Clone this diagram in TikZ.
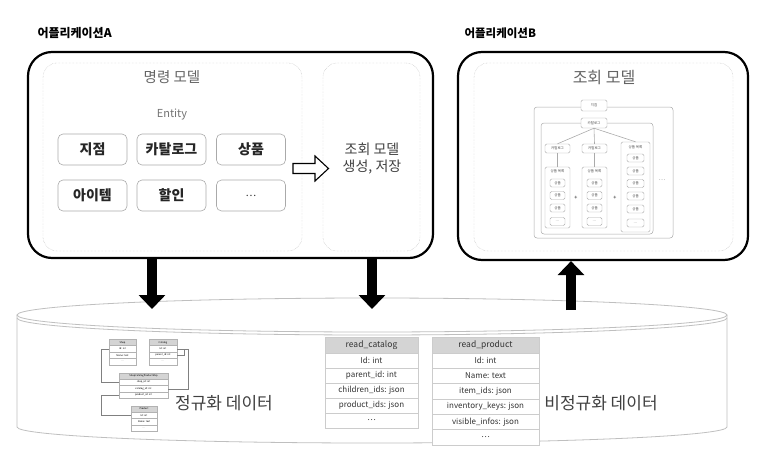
\documentclass[tikz,border=0pt]{standalone}
\usepackage{fontspec}
\setmainfont{Noto Sans CJK KR}
\usetikzlibrary{positioning,arrows.meta}
\definecolor{boxgray}{RGB}{170,170,170}
\definecolor{labelgray}{RGB}{100,100,100}
\definecolor{headgray}{RGB}{212,212,212}

\begin{document}
\begin{tikzpicture}[x=1pt, y=-1pt,
  appbox/.style={draw, line width=2.2pt, rounded corners=24pt, inner sep=0pt},
  modelbox/.style={draw=boxgray, densely dotted, rounded corners=14pt, inner sep=0pt},
  entitybox/.style={draw=boxgray, line width=.6pt, rounded corners=5pt, fill=white,
    minimum width=69pt, minimum height=31pt, inner sep=0pt,
    font=\bfseries\fontsize{14}{14}\selectfont, text=black!85},
  treebox/.style={draw=boxgray, line width=.4pt, rounded corners=1.5pt, fill=white, inner sep=0pt,
    font=\fontsize{3.5}{4}\selectfont, text=black!70},
  tblhead/.style={draw=black!20, fill=headgray, inner sep=0pt, minimum height=16pt,
    font=\fontsize{8.5}{9}\selectfont, text=black!80},
  tblrow/.style={draw=black!20, fill=white, inner sep=0pt,
    font=\fontsize{8}{9}\selectfont, text=black!80},
  erhead/.style={draw=black!30, line width=.3pt, fill=headgray, inner sep=0pt, minimum height=6pt,
    font=\fontsize{2.4}{3}\selectfont},
  errow/.style={draw=black!30, line width=.3pt, fill=white, inner sep=0pt, minimum height=6.5pt,
    font=\fontsize{2.4}{3}\selectfont},
  erline/.style={draw=black!50, line width=.35pt},
  cylline/.style={draw=black!25, line width=.8pt},
  dbarrow/.style={line width=10pt, -{Triangle[width=26pt, length=14pt]}}]

  \useasboundingbox (0,0) rectangle (770,471);

  % database cylinder
  \draw[cylline, fill=white] (17,315) -- (17,427)
    arc[start angle=180, end angle=0, x radius=355, y radius=16] -- (727,315);
  \draw[cylline, fill=white] (372,315) ellipse[x radius=355, y radius=17];
  \draw[cylline] (17,318) arc[start angle=180, end angle=0, x radius=355, y radius=17];

  % application A
  \node[anchor=west, font=\bfseries\fontsize{12}{12}\selectfont] (titleA) at (34,33) {어플리케이션A};
  \node[appbox, minimum width=405pt, minimum height=206pt] (appA) at (230.5,155) {};
  \node[modelbox, minimum width=259pt, minimum height=188pt] (cmdModel) at (172.5,157) {};
  \node[modelbox, minimum width=97pt, minimum height=188pt] (readGen) at (371.5,157) {};
  \node[font=\fontsize{14.5}{15}\selectfont, text=labelgray] (cmdLabel) at (172,77) {명령 모델};
  \node[font=\fontsize{11}{11}\selectfont, text=black!55] (entLabel) at (172,115) {Entity};
  \foreach \txt/\cx/\cy [count=\i] in {지점/92.5/149.5, 카탈로그/171.5/149.5, 상품/251/149.5,
      아이템/92.5/195.5, 할인/171.5/195.5}
    \node[entitybox] (ent\i) at (\cx,\cy) {\txt};
  \node[entitybox, font=\fontsize{10}{10}\selectfont] (ent6) at (251,195.5) {\ldots};
  \node[font=\fontsize{14}{17}\selectfont, text=black!75, align=center] (genLabel) at (372,159)
    {조회 모델\\생성, 저장};
  \draw[line width=1.1pt, fill=white] (293,163.5) -- (315,163.5) -- (315,156) -- (328.5,168.5)
    -- (315,181) -- (315,173.5) -- (293,173.5) -- cycle;

  % application B
  \node[anchor=west, font=\bfseries\fontsize{11.5}{12}\selectfont] (titleB) at (461,33) {어플리케이션B};
  \node[appbox, minimum width=290pt, minimum height=208pt] (appB) at (603,156) {};
  \node[modelbox, minimum width=259pt, minimum height=188pt] (readModel) at (603.5,157) {};
  \node[font=\fontsize{16}{16}\selectfont, text=labelgray] (readLabel) at (604,78) {조회 모델};

  % read model tree
  \node[draw=boxgray, line width=.5pt, rounded corners=3pt, minimum width=139pt, minimum height=131pt]
    (shopFrame) at (603.5,172.5) {};
  \node[draw=boxgray, line width=.5pt, rounded corners=3pt, minimum width=112pt, minimum height=111pt]
    (catFrame) at (597,178.5) {};
  \node[treebox, minimum width=26pt, minimum height=11pt] (tShop) at (594,105.5) {지점};
  \node[treebox, minimum width=26pt, minimum height=10pt] (tCat) at (594,123) {카탈로그};
  \foreach \cx/\nm in {557.5/1, 594.5/2} {
    \node[treebox, minimum width=25pt, minimum height=9pt] (tCat\nm) at (\cx,148.5) {카탈로그};
    \node[treebox, minimum width=25pt, minimum height=61pt] (tList\nm) at (\cx,197.5) {};
    \node[treebox, draw=none, fill=none] at (\cx,171.5) {상품 목록};
    \foreach \y in {183,195.5,208}
      \node[treebox, minimum width=15pt, minimum height=8pt] at (\cx,\y) {상품};
    \node[treebox, minimum width=15pt, minimum height=8pt] at (\cx,221.5) {\ldots};
    \draw[boxgray, line width=.6pt] (tCat\nm.south) -- (tList\nm.north);
  }
  \node[treebox, minimum width=29pt, minimum height=90pt] (tList3) at (635.5,187) {};
  \node[treebox, draw=none, fill=none] at (635.5,147) {상품 목록};
  \foreach \y in {158,171,183.5,196,209}
    \node[treebox, minimum width=17pt, minimum height=8pt] at (635.5,\y) {상품};
  \node[treebox, minimum width=17pt, minimum height=8pt] at (635.5,223) {\ldots};
  \foreach \child in {tCat1, tCat2, tList3}
    \draw[boxgray, line width=.6pt] (tCat.south) -- (\child.north);
  \node[font=\bfseries\fontsize{5}{5}\selectfont, text=black!60] at (576,198) {+};
  \node[font=\bfseries\fontsize{5}{5}\selectfont, text=black!60] at (615,198) {+};
  \node[font=\fontsize{6}{6}\selectfont, text=black!60] at (662,180) {\ldots};

  % arrows to and from the database
  \coordinate (dbA) at (152,309);
  \coordinate (dbGen) at (372,309);
  \coordinate (dbB) at (571,310);
  \draw[dbarrow] (dbA |- appA.south) -- (dbA);
  \draw[dbarrow] (dbGen |- appA.south) -- (dbGen);
  \draw[dbarrow] (dbB) -- (dbB |- appB.south);

  % normalized tables
  \foreach \nm/\cx/\cy/\w/\hd/\rows in {
      shop/122.5/342.5/27/Shop/{Id: int, Name: text, \ldots},
      cat/163/342.5/28/Catalog/{Id: int, parent\_id: int, \ldots},
      map/143.5/376/49/ShopCatalogProductMap/{shop\_id: int, catalog\_id: int, product\_id: int},
      prod/144/409/26/Product/{Id: int, Name: text, \ldots}} {
    \node[erhead, minimum width=\w pt] (\nm-0) at (\cx,\cy) {\hd};
    \foreach \r [count=\i] in \rows
      \node[errow, minimum width=\w pt] (\nm-\i) at (\cx,{\cy+6.5*\i-0.25}) {\r};
  }
  \draw[erline] (shop-1.west) -- ++(-8,0) |- (map-1.west);
  \draw[erline] (map-3.west) -- ++(-18,0) |- (prod-1.west);
  \draw[erline] (cat-1.east) -- ++(11,0) |- (map-2.east);
  \draw[erline] (cat-2.east) -- ++(7,0) |- (cat-1.east);
  \node[font=\fontsize{17}{17}\selectfont, text=black!75] (normLabel) at (224,403) {정규화 데이터};

  % denormalized tables
  \node[tblhead, minimum width=93pt] (rc-0) at (371.5,345) {read\_catalog};
  \foreach \txt [count=\i] in {Id: int, parent\_id: int, children\_ids: json, product\_ids: json, \ldots}
    \node[tblrow, minimum width=93pt, minimum height=15pt] (rc-\i) at (371.5,{345.5+15*\i}) {\txt};
  \node[tblhead, minimum width=107pt] (rp-0) at (485.5,345) {read\_product};
  \foreach \txt [count=\i] in {Id: int, Name: text, item\_ids: json, inventory\_keys: json,
      visible\_infos: json, \ldots}
    \node[tblrow, minimum width=107pt, minimum height=15.3pt] (rp-\i) at (485.5,{345.35+15.3*\i}) {\txt};
  \node[font=\fontsize{17}{17}\selectfont, text=black!75] (denormLabel) at (601,403) {비정규화 데이터};
\end{tikzpicture}
\end{document}
